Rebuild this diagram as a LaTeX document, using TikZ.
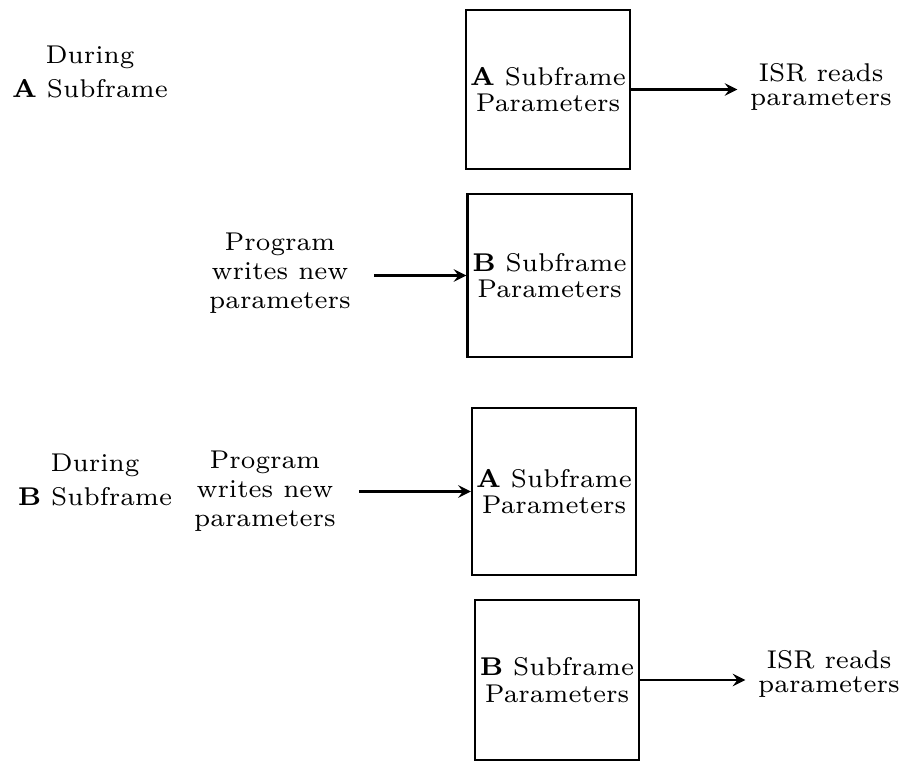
\documentclass[tikz,border=0pt]{standalone}
\begin{document}
\begin{tikzpicture}[x=0.01cm, y=-0.01cm, >=stealth, line width=0.6pt,
    every node/.style={font=\fontsize{7.3}{7.6}\selectfont, align=center},
    parbox/.style={draw, inner sep=0pt, minimum width=1.64cm},
    during/.style={font=\fontsize{7.3}{9.6}\selectfont},
    writes/.style={font=\fontsize{7.3}{8.3}\selectfont},
    reads/.style={font=\fontsize{7.3}{6.7}\selectfont}]
  \useasboundingbox (0,0) rectangle (907,762);
  % during A subframe
  \node[during] (durA) at (90,72) {During\\\textbf{A} Subframe};
  \node[parbox, minimum height=1.59cm] (boxA1) at (548,89.5) {\textbf{A} Subframe\\Parameters};
  \node[reads] (readA) at (821,87) {ISR reads\\parameters};
  \draw[->] (boxA1.east) -- (boxA1.east -| readA.west);
  \node[writes] (progA) at (280,273) {Program\\writes new\\parameters};
  \node[parbox, minimum height=1.63cm] (boxB1) at (549.5,275.5) {\textbf{B} Subframe\\Parameters};
  \draw[->, shorten <=3pt] (progA.east |- boxB1.west) -- (boxB1.west);
  % during B subframe
  \node[during] (durB) at (95,480) {During\\\textbf{B} Subframe};
  \node[writes] (progB) at (265,491) {Program\\writes new\\parameters};
  \node[parbox, minimum height=1.67cm] (boxA2) at (554,491.5) {\textbf{A} Subframe\\Parameters};
  \draw[->, shorten <=3pt] (progB.east |- boxA2.west) -- (boxA2.west);
  \node[parbox, minimum height=1.60cm] (boxB2) at (557,680) {\textbf{B} Subframe\\Parameters};
  \node[reads] (readB) at (829,674) {ISR reads\\parameters};
  \draw[->] (boxB2.east) -- (boxB2.east -| readB.west);
\end{tikzpicture}
\end{document}
